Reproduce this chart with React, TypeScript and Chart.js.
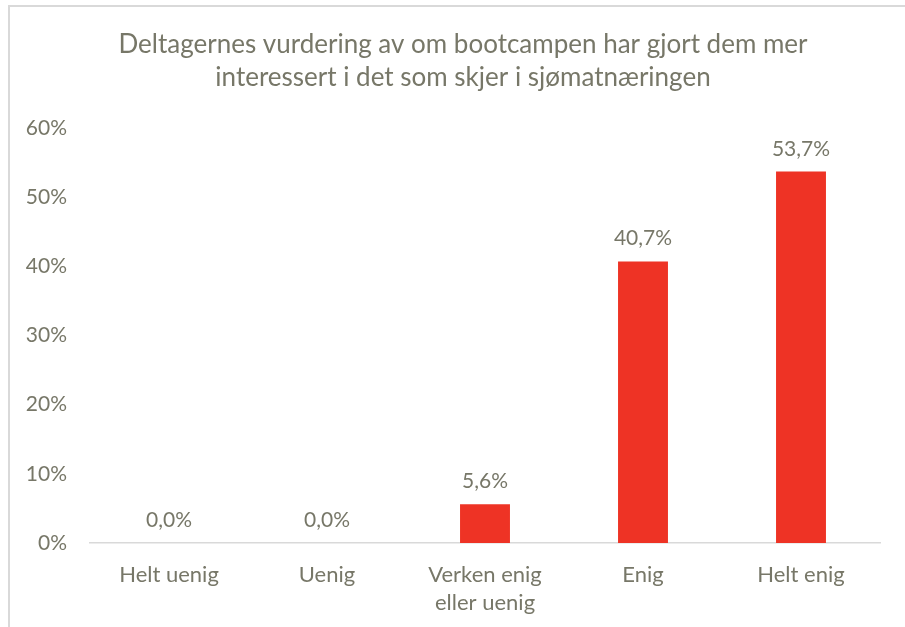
import React, { useEffect, useRef } from "react";
import { Chart, registerables } from "chart.js";

Chart.register(...registerables);

const titleLines = [
  "Deltagernes vurdering av om bootcampen har gjort dem mer",
  "interessert i det som skjer i sjømatnæringen",
];
const categories = [["Helt uenig"], ["Uenig"], ["Verken enig", "eller uenig"], ["Enig"], ["Helt enig"]];
const values = [0, 0, 5.6, 40.7, 53.7];
const valueLabels = ["0,0%", "0,0%", "5,6%", "40,7%", "53,7%"];
const yMin = 0;
const yMax = 60;
const yStep = 10;

const FONT = "Lato";
const TEXT = "#777768";
const BAR = "#EE3325";

export default function App() {
  const ref = useRef<HTMLCanvasElement | null>(null);

  useEffect(() => {
    if (!ref.current) return;
    const labelPlugin = {
      id: "labelsAndTitle",
      afterDraw(chart: any) {
        const ctx = chart.ctx;
        ctx.save();
        ctx.fillStyle = TEXT;
        ctx.textAlign = "center";
        ctx.textBaseline = "middle";
        ctx.font = `26px ${FONT}`;
        ctx.fillText(titleLines[0], 463, 45);
        ctx.fillText(titleLines[1], 463, 78);
        const meta = chart.getDatasetMeta(0);
        ctx.font = `21px ${FONT}`;
        ctx.textBaseline = "alphabetic";
        meta.data.forEach((bar: any, i: number) => {
          ctx.fillText(valueLabels[i], bar.x, bar.y - 16);
        });
        ctx.restore();
      },
    };
    const chart = new Chart(ref.current, {
      type: "bar",
      data: {
        labels: categories,
        datasets: [
          {
            data: values,
            backgroundColor: BAR,
            barPercentage: 0.632,
            categoryPercentage: 0.5,
          },
        ],
      },
      options: {
        responsive: false,
        animation: false,
        layout: { padding: { top: 128, right: 25, left: 0, bottom: 0 } },
        plugins: { legend: { display: false }, tooltip: { enabled: false }, title: { display: false } },
        scales: {
          x: {
            grid: { display: false, drawTicks: false },
            border: { display: true, color: "#d9d9d9", width: 1.5 },
            ticks: { color: TEXT, font: { family: FONT, size: 22, lineHeight: 28 / 22 }, padding: 18, maxRotation: 0 },
            afterFit: (s: any) => { s.height = 84; },
          },
          y: {
            min: yMin,
            max: yMax,
            grid: { display: false, drawTicks: false },
            border: { display: false },
            ticks: {
              stepSize: yStep,
              color: TEXT,
              font: { family: FONT, size: 21 },
              padding: 23,
              callback: (v: any) => `${v}%`,
            },
            afterFit: (s: any) => { s.width = 90; },
          },
        },
      },
      plugins: [labelPlugin],
    });
    return () => chart.destroy();
  }, []);

  return (
    <div style={{ position: "fixed", left: 0, top: 0, width: 905, height: 627, background: "#fff", overflow: "hidden" }}>
      <canvas ref={ref} width={905} height={627} style={{ position: "absolute", left: 0, top: 0 }} />
      <div
        style={{
          position: "absolute",
          left: 8,
          top: 5,
          width: 920,
          height: 640,
          borderLeft: "2px solid #d9d9d9",
          borderTop: "2px solid #d9d9d9",
          pointerEvents: "none",
        }}
      />
    </div>
  );
}
